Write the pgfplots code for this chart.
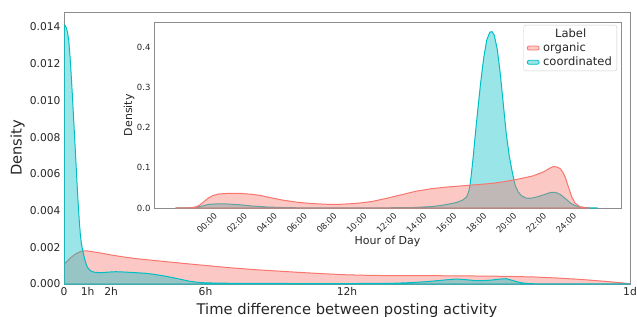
\documentclass[border=0pt]{standalone}
\usepackage{pgfplots}
\pgfplotsset{compat=1.18}
\usepackage{fontspec}
\setmainfont{DejaVu Sans}
\definecolor{org}{HTML}{F8766D}
\definecolor{coo}{HTML}{00BFC4}
\definecolor{txt}{rgb}{0.15,0.15,0.15}
\definecolor{frame}{rgb}{0.55,0.55,0.55}
\begin{document}
\begin{tikzpicture}
% ---------------- main axis ----------------
\begin{axis}[
  at={(64pt,32pt)}, anchor=south west,
  width=566pt, height=272pt, scale only axis,
  xmin=0, xmax=24, ymin=0, ymax=0.01482,
  axis line style={frame, line width=0.8pt},
  major tick length=0pt,
  xtick={0,1,2,6,12,24},
  xticklabels={0,1h,2h,6h,12h,1d},
  ytick={0,0.002,0.004,0.006,0.008,0.010,0.012,0.014},
  scaled y ticks=false,
  /pgf/number format/assume math mode=true,
  yticklabel style={/pgf/number format/.cd, fixed, fixed zerofill, precision=3},
  ticklabel style={font=\fontsize{10.7}{12}\selectfont, text=txt},
  xlabel={Time difference between posting activity},
  ylabel={Density},
  label style={font=\fontsize{14.7}{17}\selectfont, text=txt},
  xlabel style={at={(axis description cs:0.5,-0.1103)}, anchor=base},
  ylabel style={at={(axis description cs:-0.0822,0.5)}, anchor=center},
]
\addplot[draw=org, fill=org, fill opacity=0.4, line width=1pt] table {
0 0.00106
0.1 0.00120
0.2 0.00133
0.3 0.00145
0.4 0.00155
0.5 0.00164
0.6 0.00171
0.7 0.00177
0.8 0.00180
0.9 0.00181
1.0 0.00180
1.5 0.00170
2 0.00158
2.5 0.00148
3 0.00139
4 0.00126
5 0.00113
6 0.00101
7 0.00089
8 0.00079
9 0.00071
10 0.00063
11 0.00056
12 0.00050
13 0.00047
14 0.00045
16 0.00045
18 0.00043
19 0.00041
20 0.00038
21 0.00032
22 0.00024
23 0.00014
24 0.00002
} \closedcycle;
\addplot[draw=coo, fill=coo, fill opacity=0.4, line width=1pt] table {
0 0.01411
0.05 0.01408
0.1 0.01395
0.15 0.01370
0.2 0.01330
0.25 0.01250
0.3 0.01150
0.35 0.01040
0.4 0.00920
0.45 0.00800
0.5 0.00680
0.55 0.00555
0.6 0.00440
0.65 0.00340
0.7 0.00260
0.75 0.00210
0.8 0.00180
0.85 0.00150
0.9 0.00125
0.95 0.00105
1.0 0.00090
1.1 0.00075
1.2 0.00067
1.35 0.00063
1.6 0.00062
1.9 0.00065
2.2 0.00067
2.6 0.00065
3.0 0.00062
3.4 0.00059
3.8 0.00053
4.2 0.00045
4.6 0.00035
5.0 0.00024
5.3 0.00016
5.6 0.00010
6 0.00006
7 0.00004
9 0.00003
11 0.00002
13 0.00003
14 0.00004
14.8 0.00008
15.4 0.00013
15.9 0.00019
16.4 0.00025
16.7 0.00027
17.0 0.00024
17.4 0.00019
17.7 0.00018
18.1 0.00021
18.5 0.00027
18.75 0.00029
19.0 0.00020
19.3 0.00009
19.6 0.00003
20 0.00001
24 0.00001
} \closedcycle;
\end{axis}
% ---------------- inset axis ----------------
\begin{axis}[
  at={(154pt,108pt)}, anchor=south west,
  width=467pt, height=185.7pt, scale only axis,
  xmin=-3.54, xmax=27.67, ymin=0, ymax=0.462,
  axis background/.style={fill=white},
  axis line style={frame, line width=0.8pt},
  major tick length=0pt,
  xtick={0,2,4,6,8,10,12,14,16,18,20,22,24},
  xticklabels={00:00,02:00,04:00,06:00,08:00,10:00,12:00,14:00,16:00,18:00,20:00,22:00,24:00},
  xticklabel style={yshift=-15pt, rotate=45, anchor=center},
  ytick={0,0.1,0.2,0.3,0.4},
  /pgf/number format/assume math mode=true,
  yticklabel style={/pgf/number format/.cd, fixed, fixed zerofill, precision=1},
  ticklabel style={font=\fontsize{8.5}{10}\selectfont, text=txt},
  xlabel={Hour of Day},
  ylabel={Density},
  label style={font=\fontsize{11}{13}\selectfont, text=txt},
  xlabel style={at={(axis description cs:0.5,-0.194)}, anchor=base},
  ylabel style={at={(axis description cs:-0.0535,0.5)}, anchor=center},
  legend cell align=left,
  legend style={at={(axis description cs:1,1)}, anchor=north east,
    xshift=-4pt, yshift=-2.7pt, draw=black!20, rounded corners=2pt,
    fill=white, font=\fontsize{11.5}{13.5}\selectfont, text=txt,
    row sep=0pt, inner xsep=3pt, inner ysep=1.5pt},
]
\addlegendimage{empty legend}
\addlegendentry{\hspace{12pt}Label}
\addlegendimage{legend image code/.code={\draw[draw=org, fill=org, fill opacity=0.4, line width=0.8pt] (0pt,-2pt) rectangle (12pt,2pt); \path[draw=none, fill=none] (0pt,0pt) -- (14pt,0pt);}}
\addlegendentry{organic}
\addlegendimage{legend image code/.code={\draw[draw=coo, fill=coo, fill opacity=0.4, line width=0.8pt] (0pt,-2pt) rectangle (12pt,2pt); \path[draw=none, fill=none] (0pt,0pt) -- (14pt,0pt);}}
\addlegendentry{coordinated}
\addplot[draw=coo, fill=coo, fill opacity=0.4, line width=1pt, forget plot] table {
-2.1 0
-1.2 0.0003
-0.7 0.002
-0.3 0.005
0.1 0.009
0.8 0.0105
1.5 0.0098
2.2 0.0080
3.0 0.0050
4.0 0.0025
5.0 0.0012
6.0 0.0006
8.0 0.0003
10.0 0.0003
12.0 0.0005
13.8 0.0012
15.0 0.0035
15.6 0.006
16.2 0.010
16.7 0.014
17.1 0.020
17.36 0.028
17.5 0.042
17.6 0.062
17.7 0.095
17.8 0.130
17.9 0.170
18.1 0.245
18.3 0.315
18.5 0.375
18.7 0.418
18.9 0.437
19.05 0.439
19.2 0.430
19.4 0.395
19.6 0.335
19.8 0.260
20.0 0.185
20.2 0.130
20.4 0.090
20.6 0.056
20.8 0.040
21.0 0.031
21.3 0.025
21.6 0.024
22.0 0.027
22.5 0.033
23.0 0.039
23.3 0.039
23.6 0.034
24.0 0.022
24.3 0.012
24.6 0.006
25.0 0.002
25.5 0.0005
26.1 0
} \closedcycle;
\addplot[draw=org, fill=org, fill opacity=0.4, line width=1pt, forget plot] table {
-2.1 0
-1.2 0.0002
-0.8 0.002
-0.5 0.007
-0.2 0.016
0.1 0.025
0.4 0.031
0.8 0.035
1.5 0.0365
2.2 0.0365
3.0 0.034
3.6 0.031
4.2 0.026
5.0 0.020
6.0 0.0145
7.0 0.011
8.0 0.0093
9.0 0.0093
10.0 0.0115
11.0 0.016
12.0 0.024
13.0 0.033
14.0 0.042
15.0 0.048
16.0 0.052
17.0 0.055
18.0 0.058
19.0 0.061
19.6 0.064
20.7 0.071
21.8 0.080
22.5 0.090
22.9 0.099
23.15 0.103
23.4 0.102
23.6 0.098
23.8 0.088
23.95 0.076
24.15 0.053
24.38 0.028
24.6 0.012
24.93 0.003
25.3 0.0005
25.6 0
} \closedcycle;
\end{axis}
\pgfresetboundingbox
\path[use as bounding box] (0,0) rectangle (637pt,316pt);
\end{tikzpicture}
\end{document}
